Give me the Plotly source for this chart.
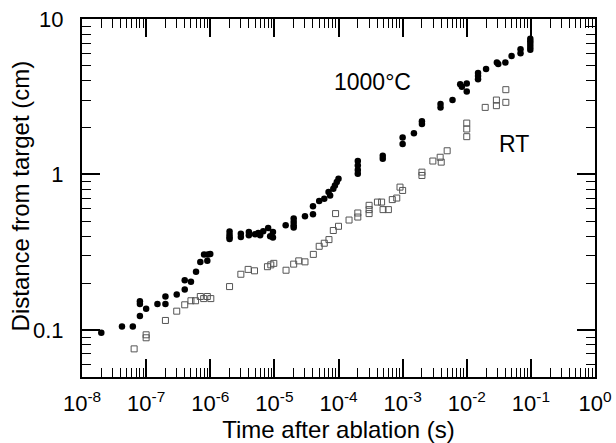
import plotly.graph_objects as go

# 1000 C (filled circles): time after ablation (s), distance (cm)
hot_t = [2e-8, 4.2e-8, 6.2e-8, 8e-8, 8e-8, 8e-8, 1e-7, 1.5e-7, 2e-7, 2e-7,
         3e-7, 4e-7, 4e-7, 5e-7, 6e-7, 7e-7, 8e-7, 9e-7, 9.2e-7, 1e-6,
         2e-6, 2e-6, 2e-6, 2e-6, 3e-6, 3e-6, 4e-6, 4e-6, 5e-6, 5.6e-6,
         6e-6, 6.7e-6, 8e-6, 8.6e-6, 9.5e-6, 9.5e-6, 1.5e-5, 2e-5, 2e-5, 2e-5,
         2e-5, 3e-5, 4e-5, 4e-5, 5e-5, 6e-5, 7e-5, 7.4e-5, 8.3e-5, 8.8e-5,
         9.4e-5, 1e-4, 2e-4, 2e-4, 2e-4, 2e-4, 4.9e-4, 4.9e-4, 1e-3, 1e-3,
         1.5e-3, 2e-3, 2e-3, 3.9e-3, 3.9e-3, 6e-3, 7.9e-3, 8.4e-3, 1e-2, 1e-2,
         1.5e-2, 1.5e-2, 1.5e-2, 2e-2, 2.95e-2, 3.1e-2, 4e-2, 5e-2, 6.9e-2, 6.9e-2,
         9.8e-2, 9.8e-2, 9.8e-2, 9.8e-2, 9.8e-2]
hot_d = [0.096, 0.105, 0.105, 0.153, 0.147, 0.123, 0.137, 0.147, 0.164, 0.147,
         0.169, 0.209, 0.182, 0.204, 0.237, 0.273, 0.306, 0.278, 0.306, 0.308,
         0.43, 0.41, 0.395, 0.385, 0.416, 0.396, 0.426, 0.406, 0.413, 0.42,
         0.406, 0.431, 0.453, 0.40, 0.427, 0.393, 0.471, 0.52, 0.494, 0.471,
         0.455, 0.538, 0.624, 0.554, 0.674, 0.698, 0.77, 0.733, 0.81, 0.85,
         0.893, 0.938, 1.22, 1.14, 1.07, 1.01, 1.32, 1.26, 1.73, 1.57,
         1.84, 2.2, 2.11, 2.84, 2.70, 3.01, 3.81, 3.67, 3.85, 3.42,
         4.5, 4.3, 4.1, 4.76, 5.25, 5.13, 5.25, 5.79, 6.4, 6.03,
         7.45, 7.2, 6.9, 6.6, 6.35]

# RT (open squares)
rt_t = [6.5e-8, 1e-7, 1e-7, 2e-7, 3e-7, 4e-7, 5e-7, 5.9e-7, 7e-7, 7.9e-7,
        9e-7, 1.02e-6, 2e-6, 3e-6, 3.9e-6, 4.9e-6, 7.8e-6, 8.8e-6, 9.8e-6, 1.52e-5,
        2e-5, 2.4e-5, 3e-5, 4.05e-5, 5e-5, 6e-5, 7.1e-5, 8.3e-5, 9e-5, 1e-4,
        1.46e-4, 2e-4, 2e-4, 3e-4, 3e-4, 3e-4, 4.05e-4, 4.7e-4, 4.95e-4, 6e-4,
        6.9e-4, 8.1e-4, 9.1e-4, 1e-3, 2e-3, 2e-3, 2.96e-3, 3.85e-3, 4e-3, 4.95e-3,
        1e-2, 1e-2, 1e-2, 1.94e-2, 2.9e-2, 2.9e-2, 4.07e-2, 4.07e-2]
rt_d = [0.0755, 0.093, 0.089, 0.115, 0.132, 0.145, 0.154, 0.154, 0.164, 0.159,
        0.164, 0.159, 0.19, 0.228, 0.245, 0.240, 0.255, 0.262, 0.268, 0.242,
        0.265, 0.278, 0.274, 0.306, 0.345, 0.361, 0.381, 0.436, 0.56, 0.464,
        0.509, 0.565, 0.532, 0.633, 0.594, 0.56, 0.664, 0.664, 0.594, 0.594,
        0.689, 0.705, 0.829, 0.789, 1.035, 0.985, 1.22, 1.29, 1.2, 1.42,
        2.14, 1.96, 1.75, 2.70, 3.01, 2.77, 2.91, 3.51]

x_tickvals = [1e-8, 1e-7, 1e-6, 1e-5, 1e-4, 1e-3, 1e-2, 1e-1, 1e0]
x_ticktext = ["10<sup>-8</sup>", "10<sup>-7</sup>", "10<sup>-6</sup>", "10<sup>-5</sup>",
              "10<sup>-4</sup>", "10<sup>-3</sup>", "10<sup>-2</sup>", "10<sup>-1</sup>",
              "10<sup>0</sup>"]
y_tickvals = [0.1, 1, 10]
y_ticktext = ["0.1", "1", "10"]

x_minor = [m * 10 ** e for e in range(-8, 0) for m in range(2, 10)]
y_minor = [m * 10 ** e for e in range(-2, 1) for m in range(2, 10)]

FONT = "Liberation Sans, Arial, Helvetica, sans-serif"

fig = go.Figure()
fig.add_trace(go.Scatter(x=rt_t, y=rt_d, mode="markers", name="RT",
                         marker=dict(symbol="square-open", size=6, color="#555555",
                                     line=dict(width=1, color="#555555"))))
fig.add_trace(go.Scatter(x=hot_t, y=hot_d, mode="markers", name="1000°C",
                         marker=dict(symbol="circle", size=6.5, color="black")))

axis_common = dict(showline=True, linecolor="black", linewidth=2, mirror="ticks",
                   ticks="inside", ticklen=18, tickwidth=1.5, tickcolor="black",
                   showgrid=False, zeroline=False, automargin=False,
                   tickfont=dict(family=FONT, size=22, color="black"))

fig.update_xaxes(type="log", range=[-8, 0], tickmode="array", tickvals=x_tickvals,
                 ticktext=x_ticktext,
                 minor=dict(tickmode="array", tickvals=x_minor, ticks="inside",
                            ticklen=9, tickwidth=1.2, tickcolor="black", showgrid=False),
                 title=dict(text="Time after ablation (s)", font=dict(family=FONT, size=24, color="black"),
                            standoff=2),
                 ticklabelstandoff=6,
                 **axis_common)
fig.update_yaxes(type="log", range=[-1.303, 1.0], tickmode="array", tickvals=y_tickvals,
                 ticktext=y_ticktext,
                 minor=dict(tickmode="array", tickvals=y_minor, ticks="inside",
                            ticklen=9, tickwidth=1.2, tickcolor="black", showgrid=False),
                 ticklabelstandoff=12,
                 **axis_common)

fig.add_annotation(text="Distance from target (cm)", textangle=-90,
                   x=-0.119, y=0.507, xref="paper", yref="paper",
                   xanchor="center", yanchor="middle", showarrow=False,
                   font=dict(family=FONT, size=24, color="black"))
fig.add_annotation(text="1000°C", x=0.567, y=0.866, xref="paper", yref="paper",
                   showarrow=False, font=dict(family=FONT, size=23, color="black"))
fig.add_annotation(text="RT", x=0.876, y=0.65, xref="paper", yref="paper",
                   showarrow=False, font=dict(family=FONT, size=23, color="black"))

fig.update_layout(width=616, height=443, margin=dict(l=82, r=21, t=19, b=66),
                  plot_bgcolor="white", paper_bgcolor="white", showlegend=False,
                  font=dict(family=FONT, color="black"))

fig.write_html("out.html", config={"displayModeBar": False},
               post_script="document.body.style.margin='0px';")
